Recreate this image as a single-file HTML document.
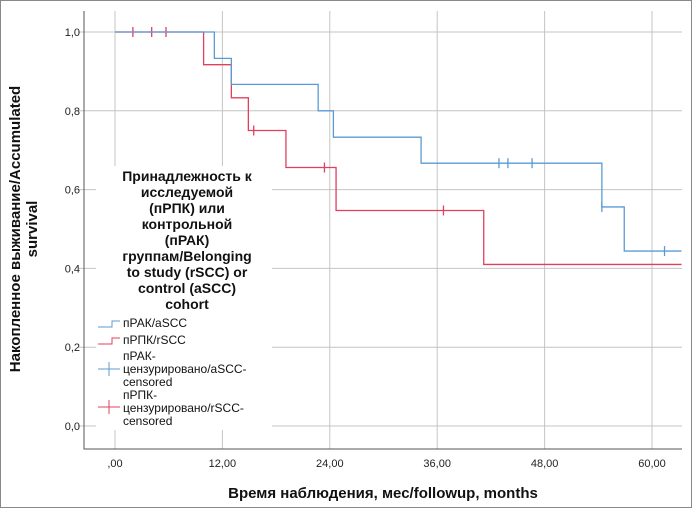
<!DOCTYPE html>
<html><head><meta charset="utf-8"><style>
body{margin:0;background:#fff;}
svg{display:block;font-family:"Liberation Sans","DejaVu Sans",sans-serif;}
</style></head><body>
<svg id="chart" width="692" height="509" viewBox="0 0 692 509" xmlns="http://www.w3.org/2000/svg">
<rect x="0.5" y="0.5" width="691" height="507" fill="#fff" stroke="#888"/>
<g id="grid"></g>
<g id="series"></g>
<g id="legend">
<rect x="96" y="166" width="176" height="264" fill="#fff"/>
<text font-size="14" font-weight="bold" text-anchor="middle" fill="#111">
<tspan x="187" y="181">Принадлежность к</tspan><tspan x="187" y="197">исследуемой</tspan><tspan x="187" y="213">(пРПК) или</tspan><tspan x="187" y="229">контрольной</tspan><tspan x="187" y="245">(пРАК)</tspan><tspan x="187" y="261">группам/Belonging</tspan><tspan x="187" y="277">to study (rSCC) or</tspan><tspan x="187" y="293">control (aSCC)</tspan><tspan x="187" y="309">cohort</tspan></text>
<path d="M98 327 H112 V321 H120" fill="none" stroke="#5b9bd5"/>
<text x="123" y="327" font-size="12" fill="#111">пРАК/aSCC</text>
<path d="M98 344 H112 V338 H120" fill="none" stroke="#e0405e"/>
<text x="123" y="344" font-size="12" fill="#111">пРПК/rSCC</text>
<path d="M98 369 H120 M109 362 V376" stroke="#5b9bd5"/>
<text font-size="12" fill="#111"><tspan x="123" y="360">пРАК-</tspan><tspan x="123" y="373">цензурировано/aSCC-</tspan><tspan x="123" y="386">censored</tspan></text>
<path d="M98 407 H120 M109 400 V414" stroke="#e0405e"/>
<text font-size="12" fill="#111"><tspan x="123" y="399">пРПК-</tspan><tspan x="123" y="412">цензурировано/rSCC-</tspan><tspan x="123" y="425">censored</tspan></text>
</g>
<text transform="translate(24,229) rotate(-90)" text-anchor="middle" font-size="15" font-weight="bold" fill="#111"><tspan x="0" y="-4">Накопленное выживание/Accumulated</tspan><tspan x="0" y="13">survival</tspan></text>
<text x="383" y="498" text-anchor="middle" font-size="15" font-weight="bold" fill="#111">Время наблюдения, мес/followup, months</text>
</svg>
<script>
const xTicks=[0,12,24,36,48,60];
const xTickLabels=[",00","12,00","24,00","36,00","48,00","60,00"];
const yTicks=[0,0.2,0.4,0.6,0.8,1.0];
const yTickLabels=["0,0","0,2","0,4","0,6","0,8","1,0"];
const aTimes=[0,11.1,13.0,22.7,24.4,34.2,54.4,56.9,63.3];
const aSurv=[1.0,0.933,0.867,0.8,0.733,0.667,0.556,0.444,0.444];
const aCensT=[42.9,43.9,46.6,54.4,61.4];
const rTimes=[0,9.9,13.0,14.9,19.1,24.7,41.2,63.3];
const rSurv=[1.0,0.917,0.833,0.75,0.656,0.547,0.41,0.41];
const rCensT=[2.0,4.1,5.7,15.5,23.4,36.7];
const NS="http://www.w3.org/2000/svg";
const X=t=>115+t*(652-115)/60;
const Y=v=>426-v*(426-32);
function mk(tag,attrs,parent){const e=document.createElementNS(NS,tag);for(const k in attrs)e.setAttribute(k,attrs[k]);parent.appendChild(e);return e;}
const grid=document.getElementById('grid');
xTicks.forEach((t,i)=>{
 const l=mk('line',{x1:X(t),x2:X(t),y1:11,y2:449,stroke:'#c4c4c4'},grid);
 
 
 const tx=mk('text',{x:X(t),y:467,'text-anchor':'middle','font-size':11,fill:'#222'},grid);
 tx.textContent=xTickLabels[i];
 
 
});
yTicks.forEach((v,i)=>{
 const l=mk('line',{x1:78,x2:682,y1:Y(v),y2:Y(v),stroke:'#c4c4c4'},grid);
 
 
 const tx=mk('text',{x:80,y:Y(v)+4,'text-anchor':'end','font-size':11,fill:'#222'},grid);
 tx.textContent=yTickLabels[i];
 
 
});
const ax=mk('path',{d:'M84 11 V449 H682',fill:'none',stroke:'#555'},grid);


const ser=document.getElementById('series');
function stepPath(ts,ss){let d='M'+X(ts[0])+' '+Y(ss[0]);for(let i=1;i<ts.length;i++){d+=' H'+X(ts[i])+' V'+Y(ss[i]);}return d;}
function survAt(ts,ss,t){let v=ss[0];for(let i=0;i<ts.length;i++){if(ts[i]<=t)v=ss[i];}return v;}
function drawSeries(ts,ss,cs,color,name){
 const p=mk('path',{d:stepPath(ts,ss),fill:'none',stroke:color,'stroke-width':1.3},ser);
 
 
 cs.forEach(t=>{
  const v=survAt(ts,ss,t);
  const c=mk('line',{x1:X(t),x2:X(t),y1:Y(v)-5,y2:Y(v)+5,stroke:color,'stroke-width':1.3},ser);
  
  
 });
}
drawSeries(rTimes,rSurv,rCensT,'#e0405e','rscc');
drawSeries(aTimes,aSurv,aCensT,'#5b9bd5','ascc');
</script>
</body></html>
